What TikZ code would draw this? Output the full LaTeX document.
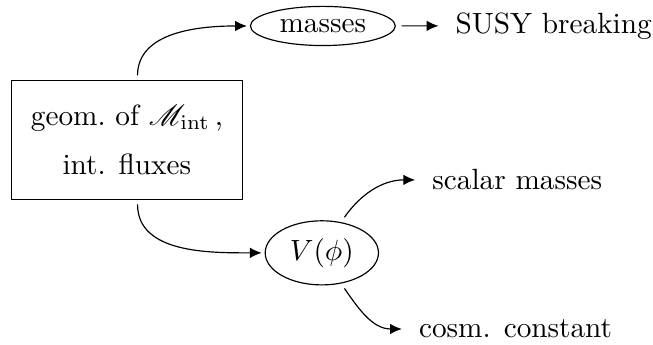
\documentclass[tikz,border=0pt]{standalone}
\usepackage{amsmath}
\usepackage{amssymb}
\usepackage{mathrsfs}
\usepackage{tikz}
\usetikzlibrary{shapes,arrows.meta,positioning,calc}

\begin{document}
\begin{tikzpicture}[
    flow/.style={-{Latex[length=4pt,width=3.6pt]}},
    lbl/.style={inner sep=0.2cm},
    blob/.style={ellipse, draw, inner sep=1pt}]
\useasboundingbox (0,0) rectangle (7.84,4.14);
\node[draw, minimum width=2.78cm, minimum height=1.43cm, align=center] (geom) at (1.524,2.46)
    {geom.\ of $\mathscr{M}_{\rm int}$\,,\\[5pt] int. fluxes};
\node[blob, minimum width=1.74cm, minimum height=0.47cm] (mass) at (3.876,3.828) {masses};
\node[lbl] (susy) at (6.648,3.83) {SUSY breaking};
\node[blob, minimum width=1.36cm, minimum height=0.77cm] (pot) at (3.864,1.104) {$V(\phi)$};
\node[lbl] (scal) at (6.21,1.98) {scalar masses};
\node[lbl] (cosm) at (6.19,0.19) {cosm. constant};
\draw[flow, shorten <=1.5pt, shorten >=1pt] (geom.80) to[out=90,in=180] (mass.west);
\draw[flow, shorten <=2pt] (mass) -- (susy);
\draw[flow, shorten <=1.5pt, shorten >=1pt] (geom.-80) to[out=-90,in=180] (pot.west);
\draw[flow, shorten <=2pt] (pot.58) to[out=55,in=180] (scal.west);
\draw[flow, shorten <=2pt] (pot.-58) to[out=-55,in=180] (cosm.west);
\end{tikzpicture}
\end{document}
